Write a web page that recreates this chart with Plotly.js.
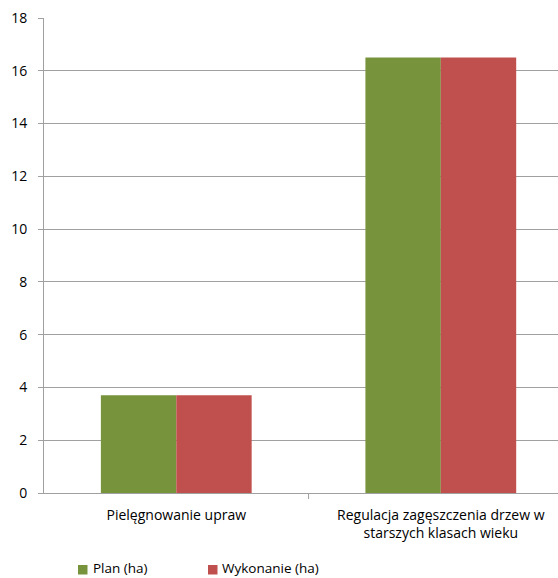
<!DOCTYPE html>
<html><head><meta charset="utf-8">
<script src="https://cdn.plot.ly/plotly-3.0.1.min.js"></script>
<style>html,body{margin:0;padding:0;background:#fff;}#chart{width:558px;height:578px;}</style>
</head><body><div id="chart"></div>
<script>
const categories = ["Pielęgnowanie upraw", "Regulacja zagęszczenia drzew w<br>starszych klasach wieku"];
const seriesNames = ["Plan (ha)", "Wykonanie (ha)"];
const seriesColors = ["#77933C", "#C0504D"];
const planValues = [3.7, 16.5];
const wykonanieValues = [3.7, 16.5];
const yTicks = [0, 2, 4, 6, 8, 10, 12, 14, 16, 18];

const W = 558, H = 578;
const M = {l: 44, r: 0, t: 18, b: 85};
const pw = W - M.l - M.r, ph = H - M.t - M.b;
const px = x => (x - M.l) / pw;
const py = y => (H - M.b - y) / ph;

const font = {family: "Open Sans, Liberation Sans, sans-serif", size: 14, color: "#000"};
const legendFont = {family: "Open Sans, Liberation Sans, sans-serif", size: 13.5, color: "#000"};
const data = [
  {type: "bar", name: seriesNames[0], x: [0, 1], y: planValues, marker: {color: seriesColors[0], line: {width: 0}}},
  {type: "bar", name: seriesNames[1], x: [0, 1], y: wykonanieValues, marker: {color: seriesColors[1], line: {width: 0}}}
];

// legend drawn manually (positions in pixels)
const legendItems = [{sx: 78, tx: 92}, {sx: 208, tx: 221}];
const shapes = [{type: "line", xref: "x", yref: "paper", x0: 0.5, x1: 0.5, y0: 0, y1: py(H - M.b + 6), line: {color: "#a0a0a0", width: 1}}];
const annotations = [];
legendItems.forEach((it, i) => {
  shapes.push({type: "rect", xref: "paper", yref: "paper", x0: px(it.sx), x1: px(it.sx + 9.5), y0: py(574.5), y1: py(565),
               fillcolor: seriesColors[i], line: {width: 0}});
  annotations.push({xref: "paper", yref: "paper", x: px(it.tx), y: py(577.5), xanchor: "left", yanchor: "bottom",
                    text: seriesNames[i], showarrow: false, font: legendFont, borderpad: 0});
});

const layout = {
  width: W, height: H,
  margin: M,
  barmode: "group", bargap: 0.43, bargroupgap: 0,
  paper_bgcolor: "#fff", plot_bgcolor: "#fff",
  font: font,
  showlegend: false,
  xaxis: {range: [-0.5, 1.443], tickmode: "array", tickvals: [0, 1], ticktext: categories,
          showgrid: false, showline: true, linecolor: "#a0a0a0", linewidth: 1, ticks: "", zeroline: false,
          tickfont: font, ticklabelstandoff: 9, fixedrange: true, automargin: false},
  yaxis: {range: [0, 18], tickmode: "array", tickvals: yTicks, showgrid: true, gridcolor: "#a0a0a0", gridwidth: 1,
          showline: true, linecolor: "#a0a0a0", linewidth: 1, ticks: "outside", ticklen: 5, tickcolor: "#a0a0a0",
          zeroline: false, tickfont: font, ticklabelstandoff: 8, fixedrange: true, automargin: false},
  shapes: shapes,
  annotations: annotations
};
Plotly.newPlot("chart", data, layout, {staticPlot: true, displayModeBar: false});
</script></body></html>
